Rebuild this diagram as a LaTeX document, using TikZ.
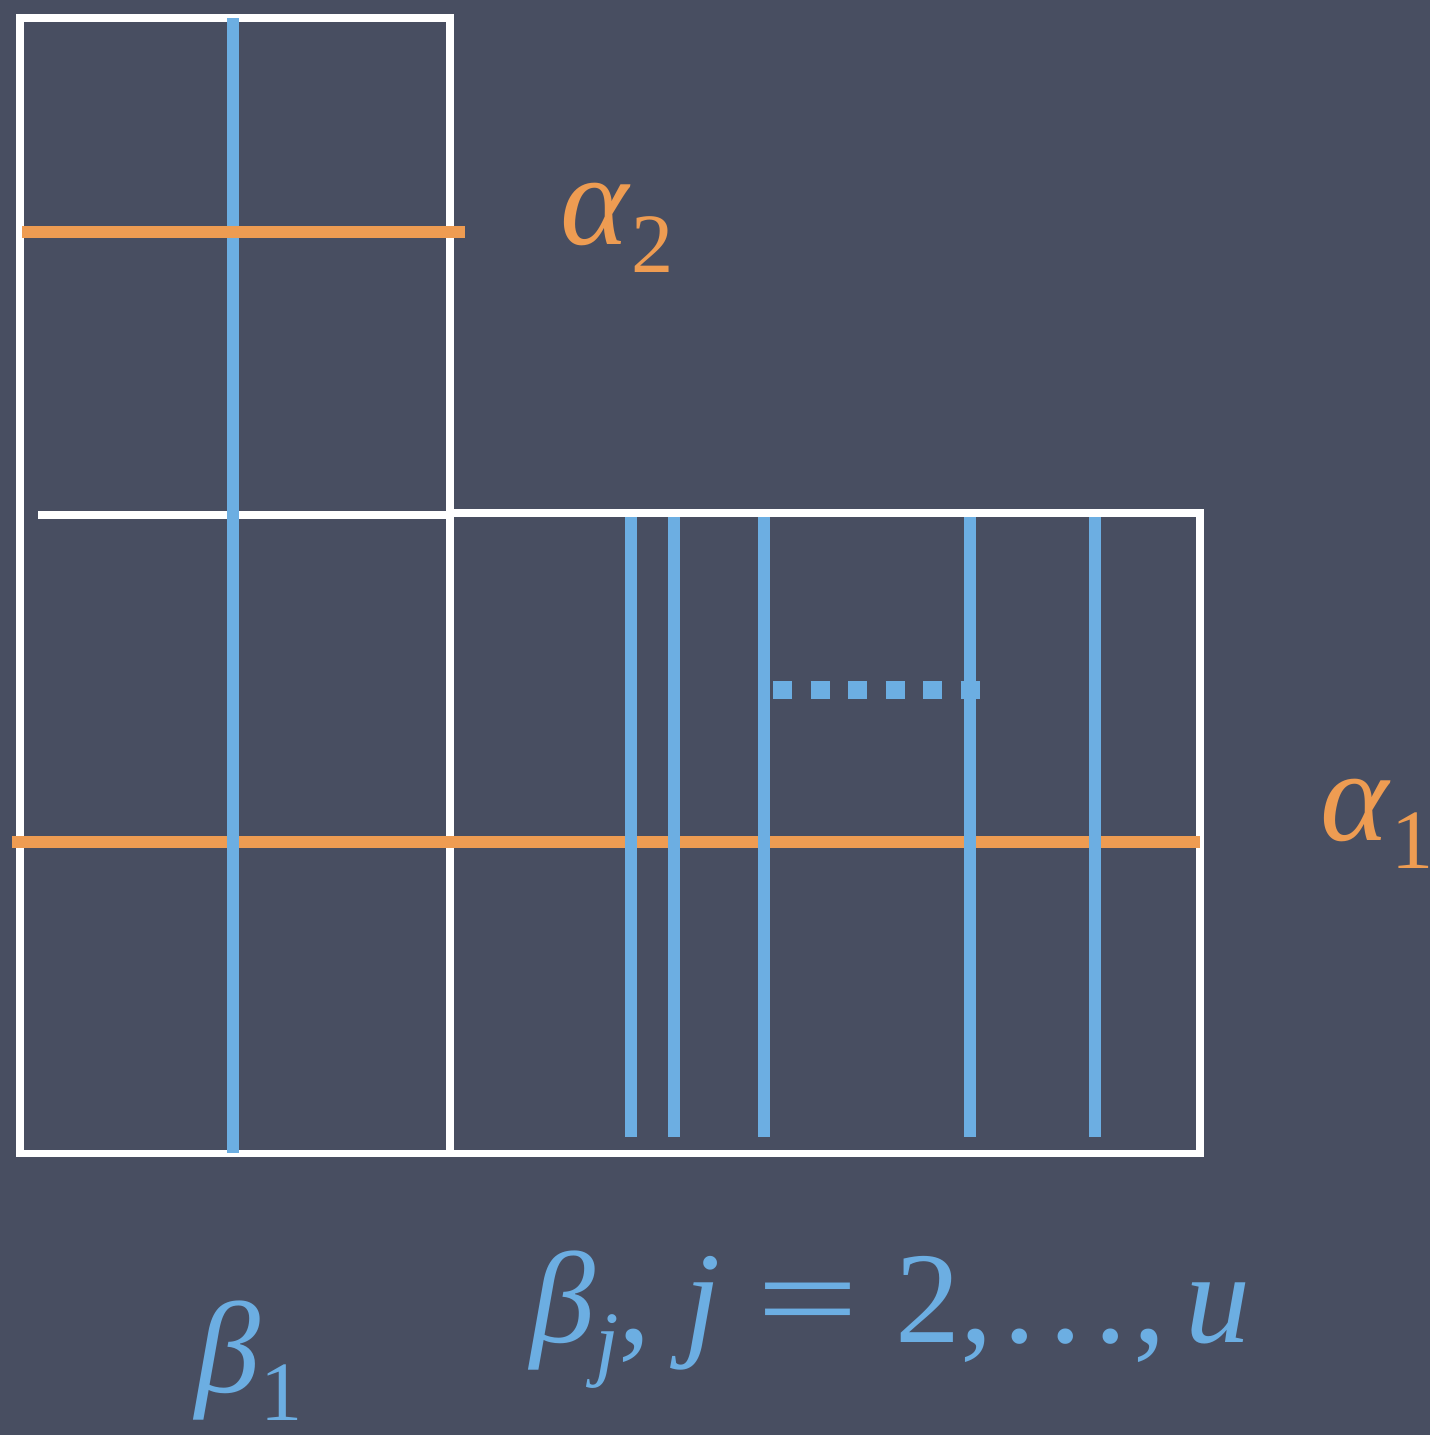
\documentclass[tikz,border=0pt]{standalone}
\usepackage{fontspec}
\setmainfont{Liberation Serif}
\usepackage{tikz}
\definecolor{Board}{RGB}{72,78,97}
\definecolor{Chalkblue}{RGB}{108,174,226}
\definecolor{Chalkorange}{RGB}{238,156,82}
\newcommand{\chalksub}[2]{\textit{#1}\raisebox{-0.28cm}{\fontsize{24}{28}\selectfont #2}}

\begin{document}
\begin{tikzpicture}[
  x=0.01cm, y=-0.01cm,
  font=\fontsize{37}{44}\selectfont,
  wline/.style={draw=white, line width=2pt},
  bline/.style={draw=Chalkblue, line width=3.4pt},
  oline/.style={draw=Chalkorange, line width=3.6pt},
  dotline/.style={draw=Chalkblue, line width=0.18cm,
                  dash pattern=on 0.19cm off 0.185cm},
  blab/.style={text=Chalkblue, inner sep=0pt, anchor=base west},
  olab/.style={text=Chalkorange, inner sep=0pt, anchor=base west}
]
\fill[Board] (0,0) rectangle (1430,1435);
\useasboundingbox (0,0) rectangle (1430,1435);

% boxes
\draw[wline] (20,18) rectangle (450,1153);
\draw[wline] (38,515) -- (450,515);
\draw[wline] (450,513) rectangle (1200,1153);

% alpha lines
\draw[oline] (12,842) -- (1200,842);

% beta lines
\draw[bline] (233,18) -- (233,1153);
\foreach \x in {631,674,764,970,1095}
  \draw[bline] (\x,517) -- (\x,1137);
\draw[dotline] (773,690) -- (980,690);

\draw[oline] (22,232) -- (465,232);

% labels
\node[olab] (alphatwo) at (560,244) {\chalksub{α}{2}};
\node[olab] (alphaone) at (1320,840) {\chalksub{α}{1}};
\node[blab] (betaone) at (195,1392) {\chalksub{β}{1}};
\node[blab] (betaj) at (530,1342)
  {\chalksub{β}{\textit{j}}, \textit{j}\kern0.28em\scalebox{1.4}[1]{=}\kern0.28em
   2,\kern0.08em.\kern0.1em.\kern0.1em.\kern0.05em,\kern0.15em\textit{u}};
\end{tikzpicture}
\end{document}
